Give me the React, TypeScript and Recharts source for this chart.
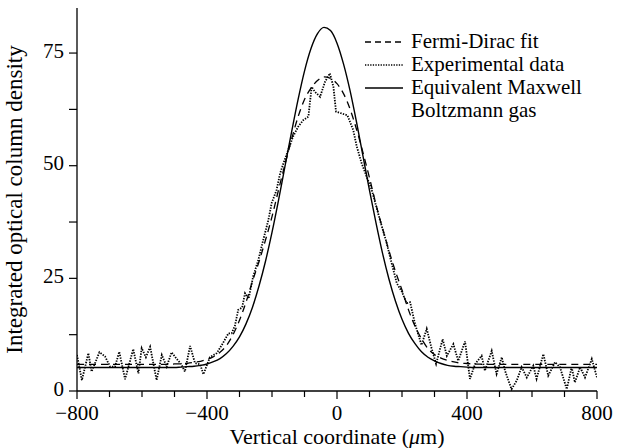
import { Legend, Line, LineChart, XAxis, YAxis } from "recharts";

const FONT = '"Liberation Serif", "Times New Roman", serif';

// smooth curves are sampled every 20 µm
const FIT_X = [
  -800, -780, -760, -740, -720, -700, -680, -660, -640, -620, -600, -580, -560, -540, -520,
  -500, -480, -460, -440, -420, -400, -380, -360, -340, -320, -300, -280, -260, -240, -220,
  -200, -180, -160, -140, -120, -100, -80, -60, -40, -20, 0, 20, 40, 60, 80, 100, 120, 140,
  160, 180, 200, 220, 240, 260, 280, 300, 320, 340, 360, 380, 400, 420, 440, 460, 480, 500,
  520, 540, 560, 580, 600, 620, 640, 660, 680, 700, 720, 740, 760, 780, 800,
];

const FERMI_DIRAC = [
  5.9, 5.9, 5.9, 5.9, 5.9, 5.9, 5.9, 5.9, 5.9, 5.9, 5.9, 5.9, 5.9, 5.9, 5.9,
  6.0, 6.05, 6.15, 6.35, 6.6, 7.0, 7.6, 8.6, 10.1, 12.5, 15.7, 19.7, 24.4, 28.7, 33.5,
  38.7, 44.6, 50.3, 55.8, 60.8, 64.7, 67.2, 68.9, 69.7, 69.4, 68.2, 66.0, 62.6, 58.1, 52.9,
  47.3, 41.4, 36.1, 31.1, 26.5, 22.4, 18.0, 14.4, 11.6, 9.4, 8.1, 7.3, 6.8, 6.45, 6.2, 6.1,
  6.0, 5.95, 5.9, 5.9, 5.9, 5.9, 5.9, 5.9, 5.9, 5.9, 5.9, 5.9, 5.9, 5.9, 5.9, 5.9, 5.9, 5.9,
  5.9, 5.9,
];

const MAXWELL = [
  5.2, 5.2, 5.2, 5.2, 5.2, 5.2, 5.2, 5.2, 5.2, 5.2, 5.2, 5.2, 5.2, 5.2, 5.2,
  5.2, 5.3, 5.4, 5.5, 5.7, 6.0, 6.5, 7.2, 8.3, 9.9, 12.0, 14.9, 18.6, 23.3, 28.8,
  35.2, 42.3, 49.9, 57.4, 64.6, 71.0, 76.0, 79.3, 80.7, 80.0, 77.2, 72.6, 66.7, 59.7, 52.1,
  44.5, 37.3, 30.6, 24.8, 19.9, 15.9, 12.8, 10.5, 8.7, 7.5, 6.7, 6.1, 5.7, 5.5, 5.4, 5.3,
  5.2, 5.2, 5.2, 5.2, 5.2, 5.2, 5.2, 5.2, 5.2, 5.2, 5.2, 5.2, 5.2, 5.2, 5.2, 5.2, 5.2, 5.2,
  5.2, 5.2,
];

// experimental profile, read point by point
const EXP_X = [
  -800, -785, -765, -755, -731, -714, -698, -683, -670, -652, -627, -611, -601, -588, -575,
  -555, -539, -524, -509, -493, -480, -468, -452, -437, -421, -411, -391, -370, -352, -334,
  -324, -314, -304, -292, -283, -272, -258, -242, -227, -211, -201, -186, -175, -165, -150,
  -135, -119, -104, -88, -78, -68, -52, -37, -22, -11, -3, 14, 32, 50, 61, 76, 91, 107, 132,
  153, 163, 184, 200, 214, 225, 240, 260, 276, 291, 305, 325, 338, 358, 373, 394, 409, 425,
  445, 455, 476, 491, 507, 517, 537, 553, 568, 584, 604, 614, 635, 650, 671, 686, 707, 722,
  732, 748, 763, 784, 800,
];

const EXP_Y = [
  8.0, 2.4, 8.4, 4.3, 8.6, 7.7, 5.4, 5.4, 8.7, 2.6, 9.3, 3.9, 9.5, 7.5, 9.8,
  2.4, 8.0, 5.4, 8.6, 7.1, 6.0, 4.3, 10.0, 6.2, 5.9, 3.7, 7.5, 8.4, 10.5, 12.8,
  12.8, 14.5, 18.0, 18.5, 21.7, 20.5, 25.4, 29.1, 33.5, 38.0, 41.7, 44.6, 48.3, 50.5, 53.5,
  56.5, 58.7, 60.1, 60.9, 67.5, 66.4, 65.3, 68.6, 70.5, 67.5, 62.0, 61.6, 61.2, 57.9, 54.2,
  50.5, 47.6, 44.6, 38.0, 32.8, 29.8, 23.9, 22.0, 19.5, 19.7, 14.9, 10.2, 13.8, 9.5, 6.0,
  11.5, 7.8, 10.4, 6.7, 11.0, 2.7, 6.0, 7.8, 4.5, 8.9, 3.8, 7.5, 4.5, 0.4, 2.3, 5.3, 3.0,
  5.6, 2.7, 8.2, 3.4, 6.4, 5.3, 0.4, 5.3, 1.9, 5.3, 3.0, 7.1, 3.0,
];

const X_TICKS = [-800, -700, -600, -500, -400, -300, -200, -100, 0, 100, 200, 300, 400, 500, 600, 700, 800];
const X_LABELED = [-800, -400, 0, 400, 800];
const Y_TICKS = [0, 12.5, 25, 37.5, 50, 62.5, 75];
const Y_LABELED = [0, 25, 50, 75];

const fdData = FIT_X.map((x, i) => ({ x, y: FERMI_DIRAC[i] }));
const mbData = FIT_X.map((x, i) => ({ x, y: MAXWELL[i] }));
const expData = EXP_X.map((x, i) => ({ x, y: EXP_Y[i] }));

const fmt = (v: number) => (v < 0 ? `\u2212${Math.abs(v)}` : `${v}`);

function BottomTick(props: any) {
  const { x, y, payload } = props;
  const major = X_LABELED.includes(payload.value);
  return (
    <g>
      <line x1={x} x2={x} y1={y} y2={y + (major ? 8 : 6)} stroke="#000" strokeWidth={1.2} />
      {major && (
        <text x={x} y={419.5} textAnchor="middle" fontFamily={FONT} fontSize={21} fill="#000">
          {fmt(payload.value)}
        </text>
      )}
    </g>
  );
}

function TopTick(props: any) {
  const { x, y, payload } = props;
  const major = X_LABELED.includes(payload.value);
  return <line x1={x} x2={x} y1={y} y2={y + (major ? 8 : 6)} stroke="#000" strokeWidth={1.2} />;
}

function LeftTick(props: any) {
  const { x, y, payload } = props;
  const major = Y_LABELED.includes(payload.value);
  return (
    <g>
      <line x1={x} x2={x - 8} y1={y} y2={y} stroke="#000" strokeWidth={1.2} />
      {major && (
        <text x={64} y={y} dy="0.22em" textAnchor="end" fontFamily={FONT} fontSize={21} fill="#000">
          {payload.value}
        </text>
      )}
    </g>
  );
}

function XLabel(props: any) {
  const { viewBox } = props;
  const cx = viewBox.x + viewBox.width / 2;
  return (
    <text x={cx} y={444} textAnchor="middle" fontFamily={FONT} fontSize={22} fill="#000">
      Vertical coordinate (<tspan fontStyle="italic">{"\u03bc"}</tspan>m)
    </text>
  );
}

const LEGEND_ITEMS = [
  { key: "fd", dash: "6 4", lines: ["Fermi-Dirac fit"] },
  { key: "exp", dash: "1.3 1.3", lines: ["Experimental data"] },
  { key: "mb", dash: undefined, lines: ["Equivalent Maxwell", "Boltzmann gas"] },
];

function LegendBox() {
  return (
    <div style={{ fontFamily: FONT, fontSize: 21, lineHeight: "23px", color: "#000", whiteSpace: "nowrap" }}>
      {LEGEND_ITEMS.map((item) => (
        <div key={item.key} style={{ display: "flex", alignItems: "flex-start" }}>
          <svg width={46} height={23} style={{ flex: "none" }}>
            <line x1={0} x2={38} y1={12} y2={12} stroke="#000" strokeWidth={1.6} strokeDasharray={item.dash} />
          </svg>
          <div>
            {item.lines.map((t) => (
              <div key={t}>{t}</div>
            ))}
          </div>
        </div>
      ))}
    </div>
  );
}

export default function App() {
  return (
    <div style={{ position: "absolute", left: 0, top: 0, background: "#fff" }}>
      <LineChart width={623} height={448} margin={{ top: 8, right: 26, left: 0, bottom: 0 }}>
        <XAxis
          dataKey="x"
          type="number"
          domain={[-800, 800]}
          ticks={X_TICKS}
          interval={0}
          height={57}
          tickSize={0}
          tickMargin={0}
          tickLine={false}
          tick={BottomTick}
          axisLine={{ stroke: "#000", strokeWidth: 1.3 }}
          allowDataOverflow
          label={XLabel}
        />
        <XAxis
          xAxisId="top"
          dataKey="x"
          type="number"
          orientation="top"
          domain={[-800, 800]}
          ticks={X_TICKS}
          interval={0}
          height={0}
          tickSize={0}
          tickMargin={0}
          tickLine={false}
          tick={TopTick}
          axisLine={{ stroke: "#000", strokeWidth: 1.3 }}
        />
        <YAxis
          type="number"
          domain={[0, 85]}
          ticks={Y_TICKS}
          interval={0}
          width={77}
          tickSize={0}
          tickMargin={0}
          tickLine={false}
          tick={LeftTick}
          axisLine={{ stroke: "#000", strokeWidth: 1.3 }}
          allowDataOverflow
          label={{
            value: "Integrated optical column density",
            angle: -90,
            position: "insideLeft",
            offset: 14,
            style: { textAnchor: "middle" },
            fontFamily: FONT,
            fontSize: 23,
            fill: "#000",
          }}
        />
        <YAxis
          yAxisId="right"
          orientation="right"
          domain={[0, 85]}
          width={0}
          tick={false}
          tickLine={false}
          axisLine={{ stroke: "#000", strokeWidth: 1.3 }}
        />
        <Legend
          content={LegendBox}
          layout="vertical"
          align="center"
          verticalAlign="middle"
          wrapperStyle={{ left: 365, top: 30, width: 250 }}
        />
        <Line
          data={mbData}
          dataKey="y"
          type="monotone"
          stroke="#000"
          strokeWidth={1.4}
          dot={false}
          isAnimationActive={false}
        />
        <Line
          data={fdData}
          dataKey="y"
          type="monotone"
          stroke="#000"
          strokeWidth={1.3}
          strokeDasharray="7 5"
          dot={false}
          isAnimationActive={false}
        />
        <Line
          data={expData}
          dataKey="y"
          type="linear"
          stroke="#000"
          strokeWidth={1.8}
          strokeDasharray="1.4 1.3"
          dot={false}
          isAnimationActive={false}
        />
      </LineChart>
    </div>
  );
}
